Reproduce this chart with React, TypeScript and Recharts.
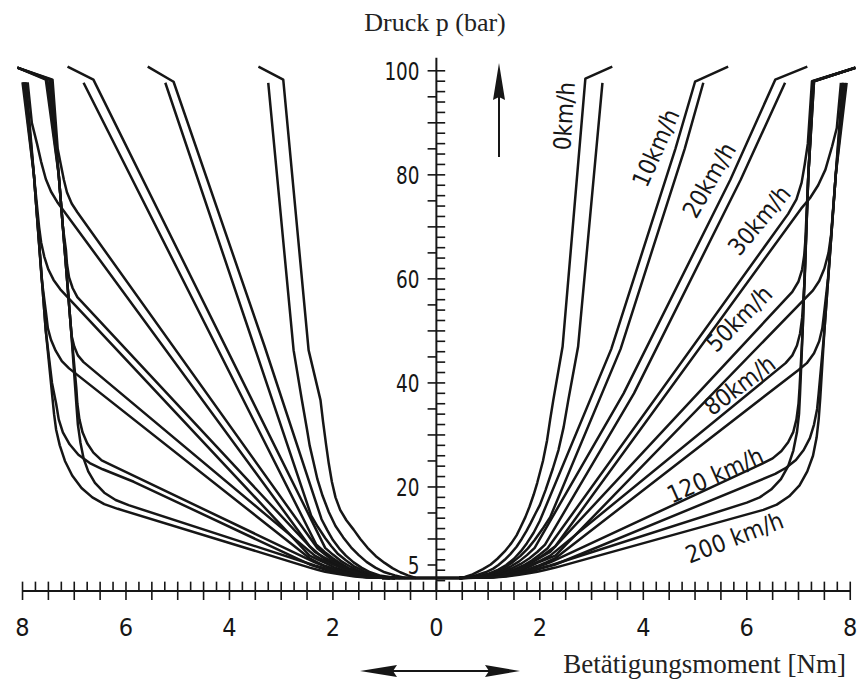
import { Line, LineChart, ReferenceDot, ReferenceLine, XAxis, YAxis } from "recharts";

type Pt = [number, number];

const INK = "#161616";
const NUM_FONT = "'DejaVu Sans Condensed', 'DejaVu Sans', sans-serif";
const SERIF = "'Liberation Serif', 'DejaVu Serif', serif";

// Betätigungsmoment [Nm] (x) vs. Druck p [bar] (y); left half = opposite steering direction.
// "a" = upper branch (kink at the stop), "b" = lower branch of each hysteresis pair.

// right half
const r0a: Pt[] = [[0.45, 2.5], [0.55, 2.7], [0.7, 3.2], [0.9, 4.2], [1.05, 5.1], [1.18, 6.2], [1.32, 7.6], [1.45, 9.2], [1.55, 10.7], [1.62, 12.1], [1.72, 14.2], [1.8, 16.2], [1.88, 18.5], [1.95, 20.8], [2.06, 25], [2.14, 29], [2.2, 33], [2.26, 36.7], [2.44, 47], [2.88, 98.5], [3.4, 100.8]];
const r0b: Pt[] = [[0.45, 2.5], [0.7, 2.8], [0.95, 3.6], [1.1, 4.3], [1.2, 5.0], [1.32, 6.0], [1.43, 7.1], [1.55, 8.5], [1.65, 10], [1.74, 11.5], [1.82, 13], [1.92, 15], [2.0, 16.5], [2.11, 19.4], [2.25, 23.5], [2.36, 27.1], [2.46, 31.5], [2.55, 36.7], [2.74, 47], [3.21, 97.7]];
const r10a: Pt[] = [[0.45, 2.5], [0.8, 2.8], [1.0, 3.3], [1.2, 4.1], [1.35, 5.0], [1.5, 6.2], [1.63, 7.6], [1.75, 9.2], [1.88, 11.2], [2.0, 13.5], [3.38, 46.5], [4.62, 85], [5.0, 97.9], [5.64, 100.8]];
const r10b: Pt[] = [[0.45, 2.5], [0.9, 2.9], [1.1, 3.5], [1.3, 4.4], [1.47, 5.5], [1.62, 6.7], [1.77, 8.2], [1.9, 9.8], [2.05, 11.9], [2.2, 14.2], [3.56, 46.5], [4.8, 85], [5.16, 97.7]];
const r20a: Pt[] = [[0.45, 2.5], [0.9, 2.8], [1.1, 3.3], [1.3, 4.0], [1.45, 4.8], [1.6, 5.7], [1.75, 6.9], [1.9, 8.3], [3.62, 38], [5.68, 79], [6.55, 98.3], [7.17, 100.8]];
const r20b: Pt[] = [[0.45, 2.5], [1.0, 2.9], [1.23, 3.5], [1.45, 4.3], [1.63, 5.2], [1.8, 6.3], [1.95, 7.5], [2.1, 8.9], [3.82, 38], [5.88, 79], [6.74, 97.7]];
const r30a: Pt[] = [[0.45, 2.5], [1.0, 2.8], [1.25, 3.3], [1.5, 4.1], [1.68, 4.9], [1.85, 5.9], [2.0, 7.0], [2.15, 8.2], [6.8, 72.5], [6.96, 75.3], [7.06, 78.5], [7.12, 82], [7.18, 86], [7.26, 98], [8.1, 100.6]];
const r30b: Pt[] = [[0.45, 2.5], [1.1, 2.9], [1.35, 3.4], [1.6, 4.3], [1.78, 5.1], [1.95, 6.1], [2.12, 7.3], [2.3, 8.6], [7.05, 73.5], [7.22, 75.5], [7.38, 78], [7.52, 81], [7.65, 85.5], [7.74, 89], [7.82, 97.7]];
const r50a: Pt[] = [[0.45, 2.5], [1.0, 2.8], [1.25, 3.3], [1.5, 4.0], [1.68, 4.7], [1.85, 5.6], [2.02, 6.5], [2.2, 7.5], [6.88, 57.5], [7.0, 59.5], [7.07, 61.8], [7.11, 64.5], [7.13, 67], [7.19, 80], [7.28, 98], [8.1, 100.6]];
const r50b: Pt[] = [[0.45, 2.5], [1.1, 2.8], [1.35, 3.3], [1.6, 3.9], [1.78, 4.6], [1.95, 5.4], [2.12, 6.1], [2.3, 6.8], [7.28, 57.8], [7.4, 59.6], [7.5, 62], [7.58, 65], [7.63, 68.5], [7.72, 80], [7.85, 97.7]];
const r80a: Pt[] = [[0.45, 2.5], [1.0, 2.7], [1.25, 3.2], [1.5, 3.8], [1.68, 4.4], [1.85, 5.1], [2.02, 5.9], [2.2, 6.8], [6.75, 43.8], [6.88, 45.3], [6.97, 47.2], [7.03, 49.5], [7.07, 52.5], [7.12, 60], [7.19, 80], [7.29, 98], [8.1, 100.6]];
const r80b: Pt[] = [[0.45, 2.5], [1.1, 2.7], [1.35, 3.1], [1.6, 3.7], [1.78, 4.2], [1.95, 4.8], [2.12, 5.5], [2.3, 6.3], [7.0, 42.5], [7.16, 43.8], [7.3, 45.7], [7.4, 48], [7.46, 50.5], [7.49, 53], [7.57, 60], [7.72, 80], [7.87, 97.7]];
const r120a: Pt[] = [[0.45, 2.5], [1.0, 2.65], [1.25, 2.95], [1.5, 3.4], [1.68, 3.8], [1.85, 4.3], [2.02, 4.85], [2.2, 5.5], [6.3, 24.5], [6.5, 25.5], [6.67, 26.9], [6.8, 28.6], [6.9, 30.6], [6.96, 33], [7.0, 36], [7.02, 39], [7.08, 50], [7.19, 80], [7.3, 98], [8.1, 100.6]];
const r120b: Pt[] = [[0.45, 2.5], [1.1, 2.65], [1.35, 2.9], [1.6, 3.3], [1.78, 3.7], [1.95, 4.1], [2.12, 4.6], [2.3, 5.1], [6.55, 22.5], [6.76, 23.7], [6.95, 25.2], [7.1, 27.1], [7.22, 29.4], [7.3, 32], [7.36, 35], [7.39, 38], [7.5, 50], [7.72, 80], [7.9, 97.7]];
const r200a: Pt[] = [[0.45, 2.5], [1.0, 2.6], [1.25, 2.85], [1.5, 3.2], [1.68, 3.6], [1.85, 4.0], [2.02, 4.45], [2.2, 4.9], [6.0, 17], [6.25, 18], [6.47, 19.5], [6.66, 21.5], [6.8, 24], [6.9, 27], [6.97, 30.5], [7.01, 34], [7.03, 38], [7.08, 50], [7.19, 80], [7.3, 98], [8.1, 100.6]];
const r200b: Pt[] = [[0.45, 2.5], [1.1, 2.6], [1.35, 2.8], [1.6, 3.1], [1.78, 3.4], [1.95, 3.7], [2.12, 4.1], [2.3, 4.5], [6.32, 15.6], [6.58, 16.6], [6.82, 18.2], [7.02, 20.3], [7.17, 23], [7.28, 26], [7.35, 29.5], [7.39, 33], [7.42, 37], [7.5, 50], [7.72, 80], [7.93, 97.7]];

// left half
const l0a: Pt[] = [[-0.4, 2.5], [-0.55, 3.0], [-0.7, 3.6], [-0.85, 4.4], [-1.0, 5.4], [-1.17, 6.7], [-1.33, 8.3], [-1.47, 10], [-1.6, 11.8], [-1.74, 13.6], [-1.86, 15.6], [-1.95, 18], [-2.02, 21], [-2.08, 24.5], [-2.13, 28], [-2.19, 32.5], [-2.24, 36.7], [-2.47, 46.3], [-2.96, 98.3], [-3.44, 100.8]];
const l0b: Pt[] = [[-0.6, 2.5], [-0.8, 3.0], [-1.0, 3.6], [-1.18, 4.5], [-1.35, 5.6], [-1.5, 6.9], [-1.65, 8.4], [-1.8, 10.3], [-1.95, 12.5], [-2.08, 15.2], [-2.2, 18.3], [-2.3, 21.5], [-2.38, 25], [-2.45, 28], [-2.5, 31], [-2.6, 36.7], [-2.76, 46.3], [-3.25, 97.7]];
const l10a: Pt[] = [[-0.7, 2.5], [-0.9, 2.7], [-1.1, 3.0], [-1.28, 3.6], [-1.45, 4.5], [-1.6, 5.5], [-1.75, 6.8], [-1.88, 8.2], [-2.0, 9.8], [-2.11, 11.7], [-2.22, 13.8], [-3.32, 47], [-5.08, 97.9], [-5.58, 100.8]];
const l10b: Pt[] = [[-0.8, 2.5], [-1.0, 2.7], [-1.2, 3.1], [-1.4, 3.8], [-1.6, 4.8], [-1.75, 5.9], [-1.9, 7.1], [-2.03, 8.6], [-2.15, 10.2], [-2.29, 12.3], [-2.42, 14.5], [-3.52, 47], [-5.24, 97.7]];
const l20a: Pt[] = [[-0.8, 2.5], [-1.0, 2.6], [-1.2, 2.9], [-1.38, 3.4], [-1.55, 4.1], [-1.7, 4.9], [-1.85, 5.8], [-2.0, 7.0], [-2.15, 8.3], [-6.63, 98.3], [-7.13, 100.8]];
const l20b: Pt[] = [[-0.9, 2.5], [-1.1, 2.7], [-1.3, 3.0], [-1.5, 3.6], [-1.7, 4.4], [-1.85, 5.3], [-2.0, 6.3], [-2.16, 7.5], [-2.32, 8.9], [-6.82, 97.7]];
const l30a: Pt[] = [[-0.8, 2.5], [-1.25, 2.8], [-1.45, 3.3], [-1.65, 4.1], [-1.83, 4.9], [-2.0, 5.9], [-2.15, 7.0], [-2.3, 8.2], [-6.94, 72.8], [-7.05, 74.5], [-7.14, 76.6], [-7.2, 79], [-7.26, 82], [-7.32, 85], [-7.42, 98.3], [-8.1, 100.6]];
const l30b: Pt[] = [[-0.9, 2.5], [-1.35, 2.9], [-1.58, 3.5], [-1.8, 4.3], [-1.98, 5.2], [-2.15, 6.1], [-2.3, 7.3], [-2.45, 8.6], [-7.33, 74.8], [-7.45, 76.8], [-7.55, 79.2], [-7.64, 82.5], [-7.72, 86], [-7.82, 90], [-7.9, 97.8]];
const l50a: Pt[] = [[-0.8, 2.5], [-1.25, 2.8], [-1.45, 3.3], [-1.65, 4.0], [-1.83, 4.8], [-2.0, 5.6], [-2.18, 6.5], [-2.35, 7.5], [-6.94, 56.5], [-7.03, 58.2], [-7.1, 60.3], [-7.14, 62.8], [-7.16, 65.5], [-7.22, 70], [-7.3, 80], [-7.45, 98.3], [-8.1, 100.6]];
const l50b: Pt[] = [[-0.9, 2.5], [-1.35, 2.8], [-1.58, 3.3], [-1.8, 3.9], [-1.98, 4.6], [-2.15, 5.4], [-2.3, 6.1], [-2.45, 6.8], [-7.27, 58], [-7.4, 59.8], [-7.5, 61.8], [-7.58, 64.3], [-7.64, 67], [-7.68, 70], [-7.78, 80], [-7.93, 97.8]];
const l80a: Pt[] = [[-0.8, 2.5], [-1.25, 2.7], [-1.45, 3.2], [-1.65, 3.8], [-1.83, 4.4], [-2.0, 5.1], [-2.18, 5.9], [-2.35, 6.8], [-6.82, 44], [-6.93, 45.3], [-7.0, 47], [-7.05, 49], [-7.08, 52.5], [-7.14, 60], [-7.3, 80], [-7.48, 98.3], [-8.1, 100.6]];
const l80b: Pt[] = [[-0.9, 2.5], [-1.35, 2.7], [-1.58, 3.1], [-1.8, 3.7], [-1.98, 4.2], [-2.15, 4.8], [-2.3, 5.5], [-2.45, 6.3], [-7.1, 42.8], [-7.24, 44.2], [-7.36, 46.2], [-7.45, 48.3], [-7.51, 50.5], [-7.54, 53], [-7.63, 60], [-7.78, 80], [-7.95, 97.8]];
const l120a: Pt[] = [[-0.8, 2.5], [-1.25, 2.65], [-1.45, 2.95], [-1.65, 3.4], [-1.83, 3.8], [-2.0, 4.3], [-2.18, 4.85], [-2.35, 5.5], [-6.28, 24.2], [-6.47, 25.1], [-6.63, 26.6], [-6.75, 28.4], [-6.84, 30.5], [-6.9, 33], [-6.94, 36], [-6.96, 39], [-7.06, 50], [-7.3, 80], [-7.52, 98.3], [-8.1, 100.6]];
const l120b: Pt[] = [[-0.9, 2.5], [-1.35, 2.65], [-1.58, 2.95], [-1.8, 3.3], [-1.98, 3.7], [-2.15, 4.1], [-2.3, 4.6], [-2.45, 5.1], [-5.85, 21], [-6.45, 23.4], [-6.7, 24.6], [-6.92, 26.2], [-7.09, 28.2], [-7.22, 30.5], [-7.3, 33], [-7.35, 36], [-7.43, 40], [-7.55, 50], [-7.78, 80], [-7.98, 97.8]];
const l200a: Pt[] = [[-0.8, 2.5], [-1.25, 2.6], [-1.45, 2.85], [-1.65, 3.2], [-1.83, 3.6], [-2.0, 4.0], [-2.18, 4.45], [-2.35, 4.9], [-5.95, 16.5], [-6.2, 17.5], [-6.42, 18.9], [-6.6, 20.8], [-6.73, 23], [-6.82, 25.5], [-6.88, 28.5], [-6.93, 32], [-6.96, 36], [-7.06, 50], [-7.3, 80], [-7.55, 98.3], [-8.1, 100.6]];
const l200b: Pt[] = [[-0.9, 2.5], [-1.35, 2.6], [-1.58, 2.8], [-1.8, 3.1], [-1.98, 3.4], [-2.15, 3.7], [-2.3, 4.1], [-2.45, 4.5], [-6.16, 15.8], [-6.42, 16.7], [-6.65, 18], [-6.86, 19.8], [-7.04, 22.2], [-7.18, 25], [-7.28, 28], [-7.35, 31], [-7.39, 34], [-7.42, 37], [-7.55, 50], [-7.78, 80], [-8.0, 97.8]];

// common zero-torque plateau at the bottom
const basePlateau: Pt[] = [[-1.05, 2.5], [0.5, 2.5]];

const curves: Pt[][] = [
  r0a, r0b, r10a, r10b, r20a, r20b, r30a, r30b, r50a, r50b, r80a, r80b, r120a, r120b, r200a, r200b,
  l0a, l0b, l10a, l10b, l20a, l20b, l30a, l30b, l50a, l50b, l80a, l80b, l120a, l120b, l200a, l200b,
];

// speed labels: text, anchor (Nm, bar), rotation
const speedLabels: { text: string; x: number; y: number; angle: number }[] = [
  { text: "0km/h", x: 2.47, y: 91.3, angle: -86 },
  { text: "10km/h", x: 4.24, y: 85.2, angle: -66 },
  { text: "20km/h", x: 5.27, y: 79.0, angle: -60 },
  { text: "30km/h", x: 6.24, y: 71.3, angle: -50 },
  { text: "50km/h", x: 5.85, y: 52.4, angle: -45 },
  { text: "80km/h", x: 5.86, y: 39.6, angle: -37 },
  { text: "120 km/h", x: 5.39, y: 22.3, angle: -24 },
  { text: "200 km/h", x: 5.76, y: 10.3, angle: -21 },
];

const xNumberTicks = [-8, -6, -4, -2, 0, 2, 4, 6, 8];
const xHalfTicks = Array.from({ length: 33 }, (_, i) => -8 + i * 0.5);
const xQuarterTicks = Array.from({ length: 65 }, (_, i) => -8 + i * 0.25);
const yRightTicks = Array.from({ length: 51 }, (_, i) => i * 2);
const yLeftTicks = Array.from({ length: 20 }, (_, i) => 5 + i * 5);
const yLabels = [100, 80, 60, 40, 20, 5];

const toRows = (pts: Pt[]) => pts.map(([x, y]) => ({ x, y }));

// narrow pressure numbers left of the centre axis
function pressureLabel(text: string) {
  return (props: any) => {
    const vb = props.viewBox || {};
    const x = (vb.x ?? 0) - 8;
    const y = (vb.y ?? 0) + (vb.height ?? 0) / 2;
    return (
      <text
        transform={`translate(${x},${y}) scale(0.82,1)`}
        textAnchor="end"
        dominantBaseline="central"
        fill={INK}
        fontSize={25}
        fontFamily={NUM_FONT}
      >
        {text}
      </text>
    );
  };
}

function Overlay() {
  return (
    <svg width={859} height={680} style={{ position: "absolute", left: 0, top: 0, pointerEvents: "none" }}>
      <text x={435} y={31} textAnchor="middle" fontFamily={SERIF} fontSize={26} fill="#222">
        Druck p (bar)
      </text>
      <text x={846} y={673} textAnchor="end" fontFamily={SERIF} fontSize={27} fill="#222">
        Betätigungsmoment [Nm]
      </text>
      {/* pressure arrow */}
      <line x1={499} y1={157} x2={499} y2={96} stroke={INK} strokeWidth={2} />
      <polygon points="499,63 505,100 499,97 493,100" fill={INK} />
      {/* torque arrow, both directions */}
      <line x1={392} y1={671} x2={490} y2={671} stroke={INK} strokeWidth={2} />
      <polygon points="360,671 397,665 393,671 397,677" fill={INK} />
      <polygon points="520,671 485,665 489,671 485,677" fill={INK} />
    </svg>
  );
}

export default function App() {
  return (
    <div style={{ position: "absolute", left: 0, top: 0, width: 859, height: 680, background: "#fff" }}>
      <LineChart width={859} height={680} margin={{ top: 50, right: 1, bottom: 59, left: 7 }}>
        <XAxis
          type="number"
          dataKey="x"
          domain={[-8.3, 8.15]}
          allowDataOverflow
          ticks={xHalfTicks}
          interval={0}
          height={30}
          axisLine={false}
          tickSize={9}
          tickMargin={18}
          tickLine={{ stroke: INK, strokeWidth: 1.6 }}
          tickFormatter={(v: number) => (xNumberTicks.includes(v) ? String(Math.abs(v)) : "")}
          tick={{ fill: INK, fontSize: 25, fontFamily: NUM_FONT }}
        />
        <YAxis type="number" dataKey="y" domain={[0, 104]} allowDataOverflow hide />

        {/* axes through the origin */}
        <ReferenceLine segment={[{ x: -8, y: 0 }, { x: 8, y: 0 }]} stroke={INK} strokeWidth={2} ifOverflow="visible" />
        <ReferenceLine segment={[{ x: 0, y: 0 }, { x: 0, y: 102.5 }]} stroke={INK} strokeWidth={2} ifOverflow="visible" />
        {xQuarterTicks.map((v) => (
          <ReferenceLine key={`xq${v}`} segment={[{ x: v, y: 0 }, { x: v, y: 1.8 }]} stroke={INK} strokeWidth={1.6} />
        ))}
        {yRightTicks.map((v) => (
          <ReferenceLine key={`yr${v}`} segment={[{ x: 0, y: v }, { x: 0.17, y: v }]} stroke={INK} strokeWidth={1.6} />
        ))}
        {yLeftTicks.map((v) => (
          <ReferenceLine
            key={`yl${v}`}
            segment={[{ x: -0.17, y: v }, { x: 0, y: v }]}
            stroke={INK}
            strokeWidth={1.6}
            label={yLabels.includes(v) ? pressureLabel(String(v)) : undefined}
          />
        ))}

        <Line
          data={toRows(basePlateau)}
          dataKey="y"
          type="linear"
          stroke={INK}
          strokeWidth={3.5}
          dot={false}
          activeDot={false}
          isAnimationActive={false}
        />
        {curves.map((pts, i) => (
          <Line
            key={i}
            data={toRows(pts)}
            dataKey="y"
            type="linear"
            stroke={INK}
            strokeWidth={2.5}
            strokeLinejoin="round"
            dot={false}
            activeDot={false}
            isAnimationActive={false}
          />
        ))}

        {speedLabels.map((s) => (
          <ReferenceDot
            key={s.text}
            x={s.x}
            y={s.y}
            r={0}
            fill="none"
            stroke="none"
            ifOverflow="visible"
            label={{ value: s.text, position: "center", angle: s.angle, fill: INK, fontSize: 24, fontFamily: NUM_FONT }}
          />
        ))}
      </LineChart>
      <Overlay />
    </div>
  );
}
